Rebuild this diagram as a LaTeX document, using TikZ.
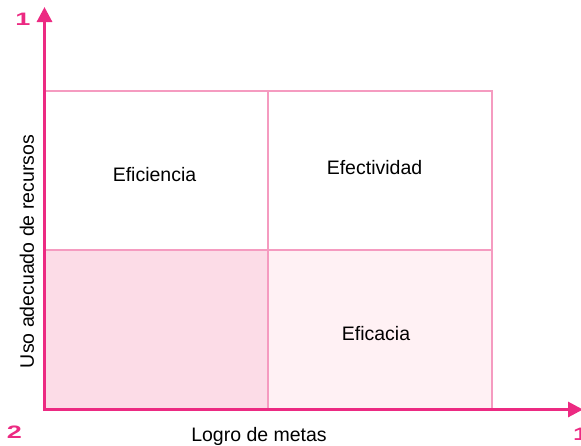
\documentclass[tikz,border=0pt]{standalone}
\usepackage{fontspec}
\setmainfont{Liberation Sans}
\usetikzlibrary{arrows.meta}
\definecolor{axispink}{HTML}{EC2A82}
\definecolor{gridpink}{HTML}{F59BC0}
\definecolor{fillA}{HTML}{FCDCE7}
\definecolor{fillB}{HTML}{FFF1F4}
\tikzset{
  lbl/.style={font=\fontsize{19.5}{22}\selectfont, text=black, inner sep=0pt, anchor=base},
  num/.style={font=\bfseries\fontsize{18}{20}\selectfont, text=axispink, inner sep=0pt, anchor=base},
  gridln/.style={draw=gridpink, line width=1.4pt},
  axisln/.style={draw=axispink, line width=3pt, -{Triangle[length=15pt,width=15pt]}}
}
\begin{document}
\begin{tikzpicture}[x=1pt,y=-1pt]
\useasboundingbox (0,0) rectangle (581,445);
% fills
\fill[fillA] (44,250) rectangle (268,409);
\fill[fillB] (268,250) rectangle (492,409);
% grid
\draw[gridln] (44,91) rectangle (492,409);
\draw[gridln] (268,91) -- (268,409);
\draw[gridln] (44,250) -- (492,250);
% axes
\coordinate (Ytip) at (44.5,7);
\coordinate (Xtip) at (583,409.5);
\draw[axisln] (44.5,411) -- (Ytip);
\draw[axisln] (43,409.5) -- (Xtip);
% numbers
\node[num] (n1) at (23,25.5) {\scalebox{1.5}[1]{1}};
\node[num] (n2) at (14.5,438.5) {\scalebox{1.5}[1]{2}};
\node[num, anchor=base west] (n3) at (573,440) {\scalebox{1.5}[1]{1}};
% labels
\node[lbl] (eficiencia) at (154.5,181.7) {Eficiencia};
\node[lbl] (efectividad) at (374.5,174.3) {Efectividad};
\node[lbl] (eficacia) at (376,340.7) {Eficacia};
\node[lbl] (xlab) at (259,441.5) {Logro de metas};
\node[lbl, rotate=90] (ylab) at (34,251.5) {Uso adecuado de recursos};
\end{tikzpicture}
\end{document}
